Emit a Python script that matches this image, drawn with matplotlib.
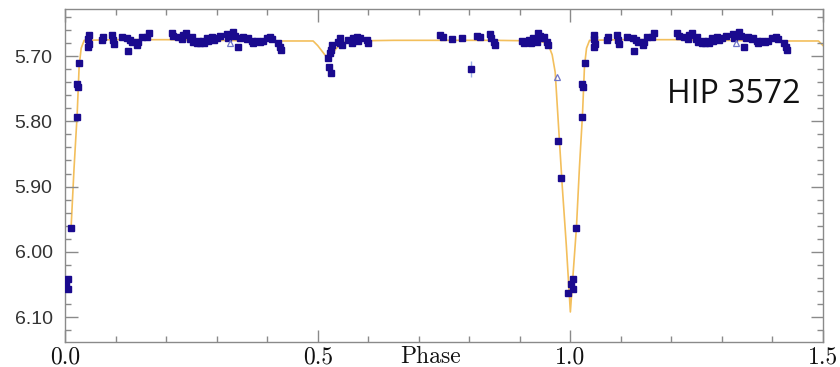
import numpy as np
import matplotlib
matplotlib.use("Agg")
import matplotlib.pyplot as plt
from matplotlib.ticker import MultipleLocator, FixedLocator

# Hipparcos photometry, phase folded (phase in [0, 1))
phase_sq = [0.001, 0.006, 0.006, 0.012, 0.024, 0.024, 0.026, 0.028,
            0.0475, 0.046, 0.048, 0.046, 0.073, 0.075, 0.093, 0.095, 0.097,
            0.113, 0.123, 0.129, 0.125, 0.133, 0.143, 0.145, 0.152, 0.162, 0.166,
            0.212, 0.214, 0.224, 0.232, 0.234, 0.240,
            0.248, 0.251, 0.253, 0.261, 0.263, 0.267, 0.273, 0.275, 0.281, 0.283,
            0.291, 0.295, 0.301, 0.307,
            0.321, 0.323, 0.333, 0.337, 0.343, 0.347, 0.352, 0.360, 0.362, 0.370,
            0.372, 0.380, 0.386, 0.392, 0.400, 0.406, 0.410, 0.422, 0.426, 0.428,
            0.523, 0.527, 0.521, 0.525, 0.527, 0.529,
            0.541, 0.545, 0.545, 0.549, 0.560, 0.568, 0.570, 0.578, 0.580, 0.584,
            0.598, 0.600, 0.743, 0.747, 0.766, 0.786, 0.816, 0.822,
            0.840, 0.842, 0.848, 0.851,
            0.905, 0.909, 0.915, 0.919, 0.923, 0.927, 0.933, 0.935, 0.939, 0.943,
            0.947, 0.954, 0.956,
            0.976, 0.982, 0.996]
mag_sq = [6.049, 6.041, 6.057, 5.963, 5.793, 5.743, 5.747, 5.711,
          5.668, 5.674, 5.681, 5.686, 5.675, 5.671, 5.668, 5.675, 5.682,
          5.671, 5.672, 5.675, 5.692, 5.679, 5.683, 5.679, 5.671, 5.671, 5.665,
          5.665, 5.669, 5.671, 5.674, 5.668, 5.665,
          5.674, 5.671, 5.679, 5.680, 5.677, 5.680, 5.677, 5.680, 5.672, 5.677,
          5.671, 5.675, 5.672, 5.669,
          5.666, 5.672, 5.663, 5.669, 5.686, 5.672, 5.671, 5.674, 5.672, 5.677,
          5.680, 5.677, 5.679, 5.677, 5.672, 5.671, 5.674, 5.680, 5.686, 5.691,
          5.717, 5.726, 5.703, 5.695, 5.691, 5.683,
          5.679, 5.672, 5.680, 5.683, 5.675, 5.680, 5.672, 5.671, 5.677, 5.672,
          5.675, 5.680, 5.668, 5.671, 5.674, 5.672, 5.669, 5.671,
          5.666, 5.672, 5.679, 5.683,
          5.677, 5.680, 5.679, 5.675, 5.680, 5.672, 5.679, 5.665, 5.669, 5.672,
          5.671, 5.679, 5.683,
          5.830, 5.887, 6.063]

phase_tri = [0.327, 0.974]
mag_tri = [5.680, 5.732]

phase_err = [0.804]
mag_err = [5.720]
err = [0.012]

# light curve model
model_phase = [0.012, 0.018, 0.024, 0.028, 0.032, 0.038, 0.10, 0.20, 0.30, 0.40,
               0.491, 0.500, 0.521, 0.535, 0.545, 0.560, 0.65, 0.75, 0.85, 0.940,
               0.956, 0.964, 0.970, 0.976, 0.984, 0.992, 1.000]
model_mag = [5.963, 5.870, 5.790, 5.715, 5.688, 5.676, 5.675, 5.675, 5.676, 5.677,
             5.677, 5.684, 5.705, 5.690, 5.682, 5.677, 5.676, 5.676, 5.676, 5.677,
             5.682, 5.698, 5.725, 5.800, 5.900, 5.990, 6.092]

navy = "#1a0a8e"
grey = "#8a8a8a"


def unfold(ph, mg):
    ph = np.asarray(ph)
    mg = np.asarray(mg)
    keep = ph <= 0.5
    return np.concatenate([ph, ph[keep] + 1]), np.concatenate([mg, mg[keep]])


fig = plt.figure(figsize=(8.4, 3.67), dpi=100)
ax = fig.add_axes([0.0774, 0.0681, 0.9024, 0.9074])

mx, my = unfold(model_phase, model_mag)
order = np.argsort(mx)
ax.plot(mx[order], my[order], color="#f3bf5c", lw=1.2, zorder=1)

ex, ey = unfold(phase_err, mag_err)
ee = np.concatenate([err, np.asarray(err)[np.asarray(phase_err) <= 0.5]])
ax.errorbar(ex, ey, yerr=ee, fmt="s", ms=4.8, color=navy, ecolor="#9bb0e6",
            elinewidth=1, capsize=0, zorder=3)

sx, sy = unfold(phase_sq, mag_sq)
ax.plot(sx, sy, "s", ms=4.8, color=navy, mec=navy, zorder=3)

tx, ty = unfold(phase_tri, mag_tri)
ax.plot(tx, ty, "^", ms=4.5, mfc="none", mec="#6f74c8", mew=0.9, zorder=3)

ax.set_xlim(0, 1.5)
ax.set_ylim(6.138, 5.628)

ax.xaxis.set_major_locator(FixedLocator([0.0, 0.5, 1.0, 1.5]))
ax.xaxis.set_minor_locator(MultipleLocator(0.1))
ax.yaxis.set_major_locator(MultipleLocator(0.1))
ax.yaxis.set_minor_locator(MultipleLocator(0.02))
ax.set_xticklabels(["0.0", "0.5", "1.0", "1.5"])
ax.set_yticklabels([f"{v:.2f}" for v in ax.get_yticks()])

ax.tick_params(which="both", direction="in", top=True, right=True, color=grey, width=1)
ax.tick_params(which="major", length=9)
ax.tick_params(which="minor", length=4.5)
ax.tick_params(axis="x", pad=3, labelsize=17, labelcolor="#111111")
ax.tick_params(axis="y", pad=9, labelsize=14, labelcolor="#333333")
for lab in ax.get_xticklabels():
    lab.set_fontfamily("cmr10")
for lab in ax.get_yticklabels():
    lab.set_fontfamily("Liberation Sans")

for sp in ax.spines.values():
    sp.set_color(grey)
    sp.set_linewidth(1)

ax.text(0.723, -0.011, "Phase", transform=ax.get_xaxis_transform(), ha="center", va="top",
        fontsize=17, family="cmr10", color="#111111")
ax.text(0.794, 0.718, "HIP 3572", transform=ax.transAxes, ha="left", va="baseline",
        fontsize=23, family="Open Sans", color="#111111")

plt.savefig("out.png", dpi=100)
